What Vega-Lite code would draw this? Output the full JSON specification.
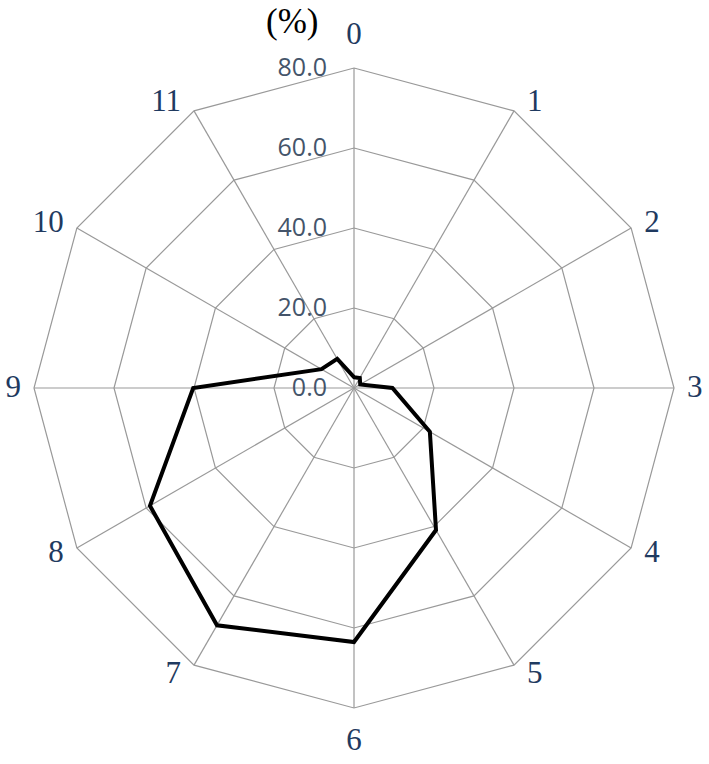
{
  "$schema": "https://vega.github.io/schema/vega-lite/v6.json",
  "width": 709,
  "height": 724,
  "autosize": "none",
  "padding": {"top": 40, "left": 0, "right": 0, "bottom": 0},
  "background": "white",
  "config": {"view": {"stroke": null}},
  "title": {"text": "(%)", "anchor": "start", "frame": "group", "dx": 266, "offset": -21, "font": "Liberation Serif", "fontSize": 35, "fontWeight": "normal", "color": "black"},
  "datasets": {
    "series": [
      {"cat": 0, "value": 2.7},
      {"cat": 1, "value": 2.9},
      {"cat": 2, "value": 1.8},
      {"cat": 3, "value": 9.6},
      {"cat": 4, "value": 21.9},
      {"cat": 5, "value": 41.0},
      {"cat": 6, "value": 63.5},
      {"cat": 7, "value": 68.5},
      {"cat": 8, "value": 58.9},
      {"cat": 9, "value": 40.2},
      {"cat": 10, "value": 9.4},
      {"cat": 11, "value": 8.4}
    ],
    "rings": [
      {"level": 20, "cat": [0,1,2,3,4,5,6,7,8,9,10,11]},
      {"level": 40, "cat": [0,1,2,3,4,5,6,7,8,9,10,11]},
      {"level": 60, "cat": [0,1,2,3,4,5,6,7,8,9,10,11]},
      {"level": 80, "cat": [0,1,2,3,4,5,6,7,8,9,10,11]}
    ],
    "ticks": [{"level": 0}, {"level": 20}, {"level": 40}, {"level": 60}, {"level": 80}]
  },
  "layer": [
    {
      "data": {"name": "rings"},
      "transform": [
        {"flatten": ["cat"]},
        {"calculate": "datum.level*sin(datum.cat*PI/6)", "as": "px"},
        {"calculate": "datum.level*cos(datum.cat*PI/6)", "as": "py"}
      ],
      "mark": {"type": "line", "interpolate": "linear-closed", "stroke": "#999999", "strokeWidth": 1.2},
      "encoding": {
        "x": {"field": "px", "type": "quantitative", "scale": {"domain": [-88.5, 88.75], "nice": false, "zero": false}, "axis": null},
        "y": {"field": "py", "type": "quantitative", "scale": {"domain": [-94, 87], "nice": false, "zero": false}, "axis": null},
        "detail": {"field": "level", "type": "nominal"},
        "order": {"field": "cat", "type": "quantitative"}
      }
    },
    {
      "data": {"name": "series"},
      "transform": [
        {"calculate": "80*sin(datum.cat*PI/6)", "as": "ex"},
        {"calculate": "80*cos(datum.cat*PI/6)", "as": "ey"},
        {"calculate": "0", "as": "z"}
      ],
      "mark": {"type": "rule", "stroke": "#999999", "strokeWidth": 1.2},
      "encoding": {
        "x": {"field": "z", "type": "quantitative"},
        "y": {"field": "z", "type": "quantitative"},
        "x2": {"field": "ex"},
        "y2": {"field": "ey"}
      }
    },
    {
      "data": {"name": "series"},
      "transform": [
        {"calculate": "datum.value*sin(datum.cat*PI/6)", "as": "px"},
        {"calculate": "datum.value*cos(datum.cat*PI/6)", "as": "py"}
      ],
      "mark": {"type": "line", "interpolate": "linear-closed", "stroke": "black", "strokeWidth": 4},
      "encoding": {
        "x": {"field": "px", "type": "quantitative"},
        "y": {"field": "py", "type": "quantitative"},
        "order": {"field": "cat", "type": "quantitative"}
      }
    },
    {
      "data": {"name": "ticks"},
      "transform": [{"calculate": "0", "as": "z"}],
      "mark": {"type": "text", "align": "right", "baseline": "middle", "dx": -27, "font": "Open Sans", "fontSize": 25, "color": "#44546A"},
      "encoding": {
        "x": {"field": "z", "type": "quantitative"},
        "y": {"field": "level", "type": "quantitative"},
        "text": {"field": "level", "type": "quantitative", "format": ".1f"}
      }
    },
    {
      "data": {"name": "series"},
      "transform": [
        {"filter": "datum.cat >= 1 && datum.cat <= 5"},
        {"calculate": "80*sin(datum.cat*PI/6)", "as": "lx"},
        {"calculate": "82.5*cos(datum.cat*PI/6)", "as": "ly"}
      ],
      "mark": {"type": "text", "align": "left", "baseline": "middle", "dx": 13, "font": "Liberation Serif", "fontSize": 31, "color": "#1F3A60"},
      "encoding": {
        "x": {"field": "lx", "type": "quantitative"},
        "y": {"field": "ly", "type": "quantitative"},
        "text": {"field": "cat", "type": "nominal"}
      }
    },
    {
      "data": {"name": "series"},
      "transform": [
        {"filter": "datum.cat >= 7"},
        {"calculate": "80*sin(datum.cat*PI/6)", "as": "lx"},
        {"calculate": "82.5*cos(datum.cat*PI/6)", "as": "ly"}
      ],
      "mark": {"type": "text", "align": "right", "baseline": "middle", "dx": -13, "font": "Liberation Serif", "fontSize": 31, "color": "#1F3A60"},
      "encoding": {
        "x": {"field": "lx", "type": "quantitative"},
        "y": {"field": "ly", "type": "quantitative"},
        "text": {"field": "cat", "type": "nominal"}
      }
    },
    {
      "data": {"name": "series"},
      "transform": [
        {"filter": "datum.cat == 0 || datum.cat == 6"},
        {"calculate": "0", "as": "z"},
        {"calculate": "88.25*cos(datum.cat*PI/6)", "as": "ly"}
      ],
      "mark": {"type": "text", "align": "center", "baseline": "middle", "font": "Liberation Serif", "fontSize": 31, "color": "#1F3A60"},
      "encoding": {
        "x": {"field": "z", "type": "quantitative"},
        "y": {"field": "ly", "type": "quantitative"},
        "text": {"field": "cat", "type": "nominal"}
      }
    }
  ]
}
